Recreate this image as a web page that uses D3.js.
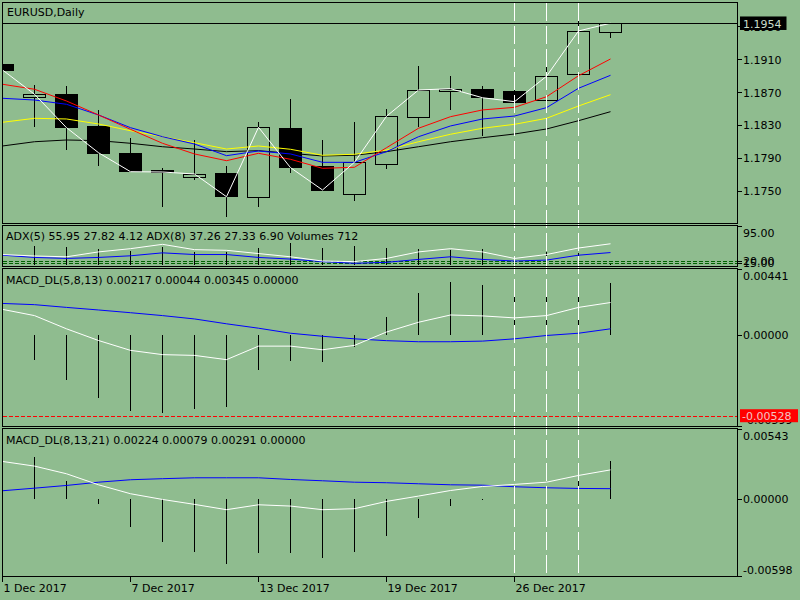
<!DOCTYPE html>
<html>
<head>
<meta charset="utf-8">
<script src="https://cdn.jsdelivr.net/npm/d3@7"></script>
<style>
  html, body { margin: 0; padding: 0; background: #8fbc8f; }
  svg { display: block; font-family: "DejaVu Sans", sans-serif; font-size: 11px; }
</style>
</head>
<body>
<svg id="chart" width="800" height="600"></svg>
<script>
// ---- data ----
const DATES = ['1 Dec 2017', '4 Dec 2017', '5 Dec 2017', '6 Dec 2017', '7 Dec 2017',
  '8 Dec 2017', '11 Dec 2017', '12 Dec 2017', '13 Dec 2017', '14 Dec 2017',
  '15 Dec 2017', '18 Dec 2017', '19 Dec 2017', '20 Dec 2017', '21 Dec 2017',
  '22 Dec 2017', '26 Dec 2017', '27 Dec 2017', '28 Dec 2017', '29 Dec 2017'];

const OPEN  = [1.19043, 1.18632, 1.18674, 1.18288, 1.17955, 1.17752, 1.17670, 1.17711, 1.17419, 1.18260,
               1.17800, 1.17456, 1.17821, 1.18394, 1.18718, 1.18735, 1.18714, 1.18601, 1.18917, 1.19429];
const HIGH  = [1.19055, 1.18787, 1.18775, 1.18482, 1.18138, 1.17772, 1.18117, 1.17800, 1.18333, 1.18616,
               1.18117, 1.18333, 1.18495, 1.19018, 1.18897, 1.18775, 1.18787, 1.19104, 1.19591, 1.19546];
const LOW   = [1.18958, 1.18279, 1.17995, 1.17804, 1.17727, 1.17297, 1.17630, 1.17183, 1.17297, 1.17711,
               1.17500, 1.17374, 1.17764, 1.18279, 1.18482, 1.18166, 1.18462, 1.18540, 1.18880, 1.19363];
const CLOSE = [1.18970, 1.18674, 1.18267, 1.17962, 1.17731, 1.17727, 1.17703, 1.17426, 1.18272, 1.17780,
               1.17508, 1.17846, 1.18406, 1.18726, 1.18742, 1.18632, 1.18584, 1.18893, 1.19445, 1.19540];

const MA_RED    = [1.18796, 1.18735, 1.18592, 1.18422, 1.18247, 1.18077, 1.17947, 1.17865, 1.17955, 1.17882,
                   1.17772, 1.17785, 1.18023, 1.18260, 1.18401, 1.18483, 1.18515, 1.18644, 1.18900, 1.19104];
const MA_BLUE   = [1.18625, 1.18604, 1.18552, 1.18422, 1.18267, 1.18157, 1.18068, 1.17926, 1.17983, 1.17947,
                   1.17845, 1.17845, 1.17975, 1.18157, 1.18288, 1.18373, 1.18409, 1.18511, 1.18747, 1.18905];
const MA_YELLOW = [1.18333, 1.18381, 1.18373, 1.18312, 1.18230, 1.18157, 1.18084, 1.18007, 1.18044, 1.18004,
                   1.17931, 1.17943, 1.17995, 1.18096, 1.18187, 1.18260, 1.18308, 1.18381, 1.18531, 1.18669];
const MA_BLACK  = [1.18044, 1.18096, 1.18117, 1.18109, 1.18077, 1.18035, 1.18007, 1.17975, 1.17987, 1.17955,
                   1.17922, 1.17931, 1.17975, 1.18035, 1.18096, 1.18145, 1.18190, 1.18251, 1.18352, 1.18462];

const BID = 1.1954;
const PRICE_TICKS = [1.1950, 1.1910, 1.1870, 1.1830, 1.1790, 1.1750];

const ADX5 = [33.0, 29.9, 28.2, 38.6, 45.5, 54.8, 43.4, 42.0, 35.1, 28.2,
              19.1, 17.9, 24.7, 38.6, 45.5, 38.6, 24.7, 33.0, 46.9, 55.95];
const ADX8 = [31.6, 26.8, 24.7, 26.8, 30.3, 36.6, 33.0, 33.0, 26.8, 23.3,
              17.9, 14.3, 16.4, 22.6, 28.2, 22.6, 19.1, 21.2, 31.6, 37.26];
const VOLUMES = [85000, 92000, 87000, 78500, 67000, 88500, 63500, 63500, 83500, 108500,
                 83500, 92000, 83500, 78500, 72000, 78500, 33500, 63500, 58500, 712];
const ADX_LEVELS = [20, 15];

const MACD1_MAIN   = [0.00172, 0.00131, 0.00044, -0.00033, -0.00098, -0.00126, -0.00131, -0.00159, -0.00070, -0.00070,
                      -0.00094, -0.00065, 0.00023, 0.00087, 0.00135, 0.00129, 0.00116, 0.00131, 0.00185, 0.00217];
const MACD1_SIGNAL = [0.00211, 0.00203, 0.00185, 0.00168, 0.00150, 0.00131, 0.00109, 0.00077, 0.00048, 0.00015,
                      -0.00005, -0.00022, -0.00034, -0.00041, -0.00041, -0.00037, -0.00022, 0.00000, 0.00015, 0.00044];
const MACD1_HIST   = [-0.00050, -0.00164, -0.00294, -0.00410, -0.00495, -0.00508, -0.00484, -0.00469, -0.00229, -0.00170,
                      -0.00177, -0.00077, 0.00120, 0.00283, 0.00355, 0.00334, 0.00273, 0.00273, 0.00349, 0.00345];
const MACD1_LEVEL = -0.00528;

const MACD2_MAIN   = [0.00289, 0.00253, 0.00194, 0.00109, 0.00040, -0.00004, -0.00042, -0.00083, -0.00045, -0.00055,
                      -0.00083, -0.00075, -0.00019, 0.00022, 0.00065, 0.00096, 0.00112, 0.00129, 0.00181, 0.00224];
const MACD2_SIGNAL = [0.00063, 0.00083, 0.00104, 0.00129, 0.00148, 0.00156, 0.00163, 0.00163, 0.00163, 0.00150,
                      0.00140, 0.00129, 0.00125, 0.00117, 0.00109, 0.00106, 0.00094, 0.00086, 0.00081, 0.00079];
const MACD2_HIST   = [0.00300, 0.00322, 0.00142, -0.00042, -0.00217, -0.00333, -0.00410, -0.00499, -0.00417, -0.00417,
                      -0.00456, -0.00410, -0.00286, -0.00148, -0.00055, -0.00012, 0.00008, 0.00091, 0.00214, 0.00291];

const X_TICKS = ['1 Dec 2017', '7 Dec 2017', '13 Dec 2017', '19 Dec 2017', '26 Dec 2017'];
const VLINES = ['26 Dec 2017', '27 Dec 2017', '28 Dec 2017'];

// ---- layout ----
const BG = '#8fbc8f';
const LEFT = 2.5, RIGHT = 737.5, LABEL_X = 743;
const panels = {
  main:  { top: 2.5,   bottom: 223.5 },
  adx:   { top: 225.5, bottom: 266.5 },
  macd1: { top: 268.5, bottom: 426.5 },
  macd2: { top: 428.5, bottom: 576.5 }
};

const svg = d3.select('#chart');
svg.append('rect').attr('width', 800).attr('height', 600).attr('fill', BG);

const defs = svg.append('defs');
Object.entries(panels).forEach(([name, p]) => {
  defs.append('clipPath').attr('id', `clip-${name}`)
    .append('rect')
    .attr('x', LEFT).attr('y', p.top)
    .attr('width', RIGHT - LEFT).attr('height', p.bottom - p.top);
});

// scales
const x = d3.scalePoint().domain(DATES).range([2.5, 2.5 + 32 * (DATES.length - 1)]);
const yPrice = d3.scaleLinear().domain([1.1750, 1.1910]).range([190.65, 59.3]);
const yAdx = d3.scaleLinear().domain([0, 95]).range([270, 225.5]);
const yVol = d3.scaleLinear().domain([0, 193500]).range([264.7, 226]);
const yM1 = d3.scaleLinear().domain([-0.00599, 0.00441]).range([426.5, 268.5]);
const yM2 = d3.scaleLinear().domain([-0.00598, 0.00543]).range([576.5, 428.5]);

const bx = i => x(DATES[i]);

function drawLine(g, values, yScale, color) {
  const line = d3.line().x((d, i) => bx(i)).y(d => yScale(d));
  g.append('path')
    .datum(values)
    .attr('fill', 'none')
    .attr('stroke', color)
    .attr('stroke-width', 1)
    .attr('d', line);
}

function rightLabel(text, y) {
  svg.append('text').attr('x', LABEL_X).attr('y', y).attr('fill', '#000').text(text);
}
function rightTick(y) {
  svg.append('line')
    .attr('x1', RIGHT).attr('x2', RIGHT + 4)
    .attr('y1', y).attr('y2', y)
    .attr('stroke', '#000').attr('shape-rendering', 'crispEdges');
}

// ---- main price panel ----
const gMain = svg.append('g').attr('clip-path', 'url(#clip-main)');

const candles = gMain.selectAll('.candle')
  .data(DATES.map((d, i) => ({ date: d, o: OPEN[i], h: HIGH[i], l: LOW[i], c: CLOSE[i] })))
  .enter().append('g').attr('class', 'candle');

candles.append('line')
  .attr('x1', d => x(d.date)).attr('x2', d => x(d.date))
  .attr('y1', d => yPrice(d.h)).attr('y2', d => yPrice(d.l))
  .attr('stroke', '#000').attr('shape-rendering', 'crispEdges');

candles.append('rect')
  .attr('x', d => x(d.date) - 11)
  .attr('width', 22)
  .attr('y', d => Math.round(yPrice(Math.max(d.o, d.c))) + 0.5)
  .attr('height', d => Math.max(1, Math.round(Math.abs(yPrice(d.o) - yPrice(d.c)))))
  .attr('fill', d => d.c < d.o ? '#000' : BG)
  .attr('stroke', '#000')
  .attr('shape-rendering', 'crispEdges');

drawLine(gMain, MA_BLACK, yPrice, '#000000');
drawLine(gMain, MA_YELLOW, yPrice, '#ffff00');
drawLine(gMain, MA_BLUE, yPrice, '#0000ff');
drawLine(gMain, MA_RED, yPrice, '#ff0000');
drawLine(gMain, CLOSE, yPrice, '#ffffff');

// bid line
gMain.append('line')
  .attr('x1', LEFT).attr('x2', RIGHT)
  .attr('y1', Math.round(yPrice(BID)) + 0.5).attr('y2', Math.round(yPrice(BID)) + 0.5)
  .attr('stroke', '#000').attr('shape-rendering', 'crispEdges');

svg.append('text').attr('x', 7).attr('y', 16).text('EURUSD,Daily');

PRICE_TICKS.forEach(t => {
  rightTick(Math.round(yPrice(t)) + 0.5);
  rightLabel(t.toFixed(4), yPrice(t) + 4.5);
});
svg.append('rect')
  .attr('x', 740).attr('y', yPrice(BID) - 6.7)
  .attr('width', 46.5).attr('height', 13.5)
  .attr('fill', '#000');
svg.append('text').attr('x', LABEL_X).attr('y', yPrice(BID) + 4.5)
  .attr('fill', '#c9dcc9').text(BID.toFixed(4));

// ---- ADX + volumes panel ----
const gAdx = svg.append('g').attr('clip-path', 'url(#clip-adx)');

ADX_LEVELS.forEach(lv => {
  gAdx.append('line')
    .attr('x1', LEFT).attr('x2', RIGHT)
    .attr('y1', Math.round(yAdx(lv)) + 0.5).attr('y2', Math.round(yAdx(lv)) + 0.5)
    .attr('stroke', '#006400').attr('stroke-dasharray', '4,2')
    .attr('shape-rendering', 'crispEdges');
});

gAdx.selectAll('.vol')
  .data(VOLUMES)
  .enter().append('line')
  .attr('class', 'vol')
  .attr('x1', (d, i) => bx(i)).attr('x2', (d, i) => bx(i))
  .attr('y1', yVol(0)).attr('y2', d => Math.min(yVol(d), yVol(0) - 1))
  .attr('stroke', '#000').attr('shape-rendering', 'crispEdges');

drawLine(gAdx, ADX8, yAdx, '#0000ff');
drawLine(gAdx, ADX5, yAdx, '#ffffff');

svg.append('text').attr('x', 6).attr('y', 240)
  .text('ADX(5) 55.95 27.82 4.12 ADX(8) 37.26 27.33 6.90 Volumes 712');

rightTick(panels.adx.top + 0.5);
rightLabel('95.00', panels.adx.top + 11.5);
ADX_LEVELS.forEach(lv => {
  rightTick(Math.round(yAdx(lv)) + 0.5);
  rightLabel(lv.toFixed(2), yAdx(lv) + 4.5);
});

// ---- MACD panels ----
function macdPanel(name, yScale, main, signal, hist, title, topLabel, bottomLabel) {
  const p = panels[name];
  const g = svg.append('g').attr('clip-path', `url(#clip-${name})`);

  g.selectAll('.hist')
    .data(hist)
    .enter().append('line')
    .attr('class', 'hist')
    .attr('x1', (d, i) => bx(i)).attr('x2', (d, i) => bx(i))
    .attr('y1', yScale(0)).attr('y2', d => yScale(d))
    .attr('stroke', '#000').attr('shape-rendering', 'crispEdges');

  drawLine(g, signal, yScale, '#0000ff');
  drawLine(g, main, yScale, '#ffffff');

  svg.append('text').attr('x', 6).attr('y', p.top + 15).text(title);

  rightTick(p.top + 0.5);
  rightTick(Math.round(yScale(0)) + 0.5);
  rightTick(p.bottom);
  rightLabel(topLabel, p.top + 11);
  rightLabel('0.00000', yScale(0) + 3.8);
  rightLabel(bottomLabel, p.bottom - 2.5);
  return g;
}

const gM1 = macdPanel('macd1', yM1, MACD1_MAIN, MACD1_SIGNAL, MACD1_HIST,
  'MACD_DL(5,8,13) 0.00217 0.00044 0.00345 0.00000', '0.00441', '-0.00599');

gM1.append('line')
  .attr('x1', LEFT).attr('x2', RIGHT)
  .attr('y1', Math.round(yM1(MACD1_LEVEL)) + 0.5).attr('y2', Math.round(yM1(MACD1_LEVEL)) + 0.5)
  .attr('stroke', '#ff0000').attr('stroke-dasharray', '4,2')
  .attr('shape-rendering', 'crispEdges');
svg.append('rect')
  .attr('x', 740).attr('y', yM1(MACD1_LEVEL) - 6.5)
  .attr('width', 58).attr('height', 13)
  .attr('fill', '#ff0000');
svg.append('text').attr('x', LABEL_X - 1).attr('y', yM1(MACD1_LEVEL) + 4.5)
  .attr('fill', '#f2c4c4').text(MACD1_LEVEL.toFixed(5));

macdPanel('macd2', yM2, MACD2_MAIN, MACD2_SIGNAL, MACD2_HIST,
  'MACD_DL(8,13,21) 0.00224 0.00079 0.00291 0.00000', '0.00543', '-0.00598');

// ---- vertical dashed lines across all panels ----
svg.selectAll('.vline')
  .data(VLINES)
  .enter().append('line')
  .attr('class', 'vline')
  .attr('x1', d => x(d)).attr('x2', d => x(d))
  .attr('y1', panels.main.top).attr('y2', panels.macd2.bottom)
  .attr('stroke', '#ffffff').attr('stroke-dasharray', '18,5')
  .attr('shape-rendering', 'crispEdges');

// ---- panel borders ----
Object.values(panels).forEach(p => {
  svg.append('rect')
    .attr('x', LEFT).attr('y', p.top)
    .attr('width', RIGHT - LEFT).attr('height', p.bottom - p.top)
    .attr('fill', 'none').attr('stroke', '#000')
    .attr('shape-rendering', 'crispEdges');
});

// ---- time axis ----
X_TICKS.forEach(d => {
  svg.append('line')
    .attr('x1', x(d)).attr('x2', x(d))
    .attr('y1', panels.macd2.bottom).attr('y2', panels.macd2.bottom + 5)
    .attr('stroke', '#000').attr('shape-rendering', 'crispEdges');
  svg.append('text').attr('x', x(d) + 1).attr('y', 592).text(d);
});
</script>
</body>
</html>
